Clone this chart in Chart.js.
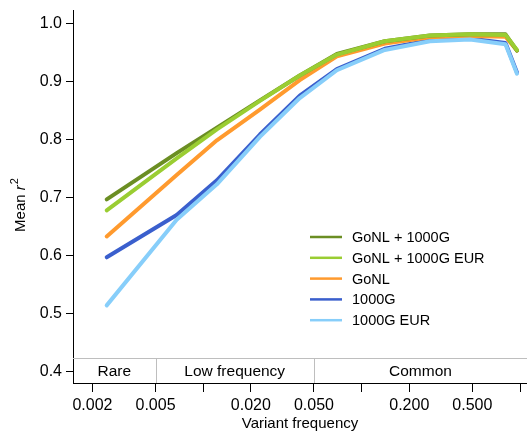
<!DOCTYPE html>
<html>
<head>
<meta charset="utf-8">
<script src="https://cdn.jsdelivr.net/npm/chart.js@4/dist/chart.umd.min.js"></script>
<style>
  html, body { margin: 0; padding: 0; background: #ffffff; }
  #wrap { width: 527px; height: 433px; }
</style>
</head>
<body>
<div id="wrap"><canvas id="c" width="527" height="433"></canvas></div>
<script>
// ---- data ----
const freq = [0.00246, 0.0068, 0.0122, 0.0228, 0.0407, 0.0698, 0.140, 0.270, 0.483, 0.81, 0.957];
const gonl1000g    = [0.697, 0.777, 0.821, 0.868, 0.911, 0.948, 0.970, 0.980, 0.982, 0.982, 0.954];
const gonl1000gEur = [0.678, 0.768, 0.818, 0.867, 0.911, 0.947, 0.970, 0.980, 0.982, 0.981, 0.955];
const gonl         = [0.633, 0.739, 0.799, 0.852, 0.903, 0.944, 0.966, 0.977, 0.979, 0.978, 0.954];
const g1000        = [0.597, 0.670, 0.730, 0.809, 0.876, 0.922, 0.957, 0.972, 0.975, 0.967, 0.916];
const g1000Eur     = [0.514, 0.662, 0.723, 0.805, 0.872, 0.920, 0.955, 0.970, 0.973, 0.965, 0.914];
const seriesNames  = ['GoNL + 1000G', 'GoNL + 1000G EUR', 'GoNL', '1000G', '1000G EUR'];

const xTicks      = [0.002, 0.005, 0.01, 0.02, 0.05, 0.1, 0.2, 0.5, 1];
const xTickLabels = ['0.002', '0.005', '', '0.020', '0.050', '', '0.200', '0.500', ''];
const yTicks      = [0.4, 0.5, 0.6, 0.7, 0.8, 0.9, 1.0];
const yTickLabels = ['0.4', '0.5', '0.6', '0.7', '0.8', '0.9', '1.0'];

const bandEdges  = [0.005, 0.05];
const bandLabels = ['Rare', 'Low frequency', 'Common'];
const bandTop = 0.4224;

// ---- styles ----
const colors = ['#6B8E23', '#9ACD32', '#FF9A2E', '#3A5FCD', '#87CEFA'];
const drawOrder = [3, 2, 4, 5, 1];
const FONT = '"Liberation Sans", Arial, Helvetica, sans-serif';

const allSeries = [gonl1000g, gonl1000gEur, gonl, g1000, g1000Eur];
const datasets = allSeries.map((arr, i) => ({
  label: seriesNames[i],
  data: arr.map((v, j) => ({ x: freq[j], y: v })),
  borderColor: colors[i],
  backgroundColor: colors[i],
  borderWidth: 4,
  pointRadius: 0,
  tension: 0,
  fill: false,
  borderCapStyle: 'round',
  borderJoinStyle: 'round',
  order: drawOrder[i]
}));

const bandPlugin = {
  id: 'band',
  beforeDatasetsDraw(chart) {
    const { ctx, chartArea, scales } = chart;
    const xs = scales.x, ys = scales.y;
    const yTop = ys.getPixelForValue(bandTop);
    const yBot = ys.getPixelForValue(ys.min);
    ctx.save();
    ctx.strokeStyle = '#BEBEBE';
    ctx.lineWidth = 1;
    ctx.beginPath();
    ctx.moveTo(chartArea.left, Math.round(yTop) + 0.5);
    ctx.lineTo(chartArea.right, Math.round(yTop) + 0.5);
    bandEdges.forEach(e => {
      const px = Math.round(xs.getPixelForValue(e)) + 0.5;
      ctx.moveTo(px, yTop);
      ctx.lineTo(px, yBot);
    });
    ctx.stroke();
    const bounds = [chartArea.left].concat(bandEdges.map(e => xs.getPixelForValue(e)), [chartArea.right]);
    ctx.fillStyle = '#000';
    ctx.font = '15.5px ' + FONT;
    ctx.textAlign = 'center';
    ctx.textBaseline = 'middle';
    const yMid = ys.getPixelForValue(0.4);
    bandLabels.forEach((t, i) => {
      ctx.fillText(t, (bounds[i] + bounds[i + 1]) / 2, yMid);
    });
    ctx.restore();
  },
  afterDraw(chart) {
    const { ctx } = chart;
    // legend
    ctx.save();
    const lx0 = 310, lx1 = 342, tx = 352, y0 = 237, step = 20.8;
    ctx.font = '14.5px ' + FONT;
    ctx.textAlign = 'left';
    ctx.textBaseline = 'middle';
    seriesNames.forEach((n, i) => {
      const y = y0 + i * step;
      ctx.strokeStyle = colors[i];
      ctx.lineWidth = 2.5;
      ctx.beginPath();
      ctx.moveTo(lx0, y);
      ctx.lineTo(lx1, y);
      ctx.stroke();
      ctx.fillStyle = '#000';
      ctx.fillText(n, tx, y + 1);
    });
    ctx.restore();
    // y-axis title: Mean r^2
    ctx.save();
    ctx.translate(21, 205);
    ctx.rotate(-Math.PI / 2);
    ctx.fillStyle = '#000';
    ctx.textBaseline = 'middle';
    const f1 = '15px ' + FONT, f2 = 'italic 15px ' + FONT, f3 = '11px ' + FONT;
    ctx.font = f1; const w1 = ctx.measureText('Mean ').width;
    ctx.font = f2; const w2 = ctx.measureText('r').width;
    ctx.font = f3; const w3 = ctx.measureText('2').width;
    let x = -(w1 + w2 + w3 + 1) / 2;
    ctx.textAlign = 'left';
    ctx.font = f1; ctx.fillText('Mean ', x, 0); x += w1;
    ctx.font = f2; ctx.fillText('r', x, 0); x += w2 + 1;
    ctx.font = f3; ctx.fillText('2', x, -6);
    ctx.restore();
  }
};

new Chart(document.getElementById('c'), {
  type: 'line',
  data: { datasets },
  plugins: [bandPlugin],
  options: {
    responsive: false,
    devicePixelRatio: 1,
    animation: false,
    layout: { padding: { left: 0, right: 0, top: 10, bottom: 0 } },
    plugins: { legend: { display: false }, tooltip: { enabled: false } },
    scales: {
      x: {
        type: 'logarithmic',
        position: 'bottom',
        min: 0.001507,
        max: 1.107,
        afterBuildTicks: (axis) => { axis.ticks = xTicks.map(v => ({ value: v })); },
        afterFit: (s) => { s.height = 50; s.paddingLeft = 0; s.paddingRight = 0; },
        ticks: {
          autoSkip: false,
          maxRotation: 0,
          color: '#000',
          font: { family: FONT, size: 16 },
          padding: 4,
          callback: (v, i) => xTickLabels[i]
        },
        grid: { drawOnChartArea: false, drawTicks: true, tickLength: 9, color: '#000', lineWidth: 1 },
        border: { display: true, color: '#000', width: 1 },
        title: { display: true, text: 'Variant frequency', color: '#000', font: { family: FONT, size: 15 }, padding: { top: 0, bottom: 0 } }
      },
      y: {
        type: 'linear',
        min: 0.38,
        max: 1.024,
        afterBuildTicks: (axis) => { axis.ticks = yTicks.map(v => ({ value: v })); },
        afterFit: (s) => { s.width = 73; s.paddingTop = 0; s.paddingBottom = 0; },
        ticks: {
          color: '#000',
          font: { family: FONT, size: 16 },
          padding: 4,
          callback: (v, i) => yTickLabels[i]
        },
        grid: { drawOnChartArea: false, drawTicks: true, tickLength: 7, color: '#000', lineWidth: 1 },
        border: { display: true, color: '#000', width: 1 }
      }
    }
  }
});
</script>
</body>
</html>
